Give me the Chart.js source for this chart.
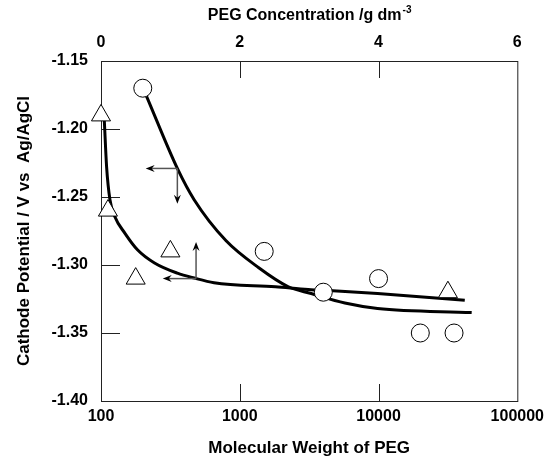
<!DOCTYPE html>
<html>
<head>
<meta charset="utf-8">
<script src="https://cdn.jsdelivr.net/npm/chart.js@4.4.1/dist/chart.umd.min.js"></script>
<style>
  html, body { margin: 0; padding: 0; background: #fff; }
</style>
</head>
<body>
<canvas id="peg-chart" width="550" height="459"></canvas>
<script>
/**
 * Cathode potential vs PEG molecular weight / concentration
 */

// circles: against molecular weight (bottom axis)
let mwPoints = [200, 1500, 4000, 10000, 20000, 35000];
let mwPotential = [-1.17, -1.29, -1.32, -1.31, -1.35, -1.35];

// triangles: against concentration (top axis)
let concPoints = [0, 0.1, 0.5, 1.0, 5.0];
let concPotential = [-1.19, -1.26, -1.31, -1.29, -1.32];

// fitted curves
let mwCurveX = [213, 355, 469, 794, 1370, 2240, 3270, 5720, 9840, 46900];
let mwCurveY = [-1.176, -1.229, -1.252, -1.282, -1.302, -1.316, -1.321, -1.328, -1.332, -1.335];
let concCurveX = [0.047, 0.081, 0.129, 0.2, 0.343, 0.529, 0.771, 1.1, 1.343, 1.629, 2.514, 2.986, 3.34, 3.986, 5.243];
let concCurveY = [-1.193, -1.228, -1.252, -1.2645, -1.2765, -1.289, -1.2985, -1.306, -1.3096, -1.313, -1.316, -1.318, -1.319, -1.321, -1.326];

// axis ticks
let mwTicks = [100, 1000, 10000, 100000];
let concTicks = [0, 2, 4, 6];
let potentialTicks = [-1.40, -1.35, -1.30, -1.25, -1.20, -1.15];

// arrows telling which axis each curve belongs to: [axis, x0, y0, x1, y1]
let arrowList = [
    ['x', 355, -1.229, 210, -1.229],
    ['x', 355, -1.229, 355, -1.255],
    ['x2', 1.37, -1.31, 0.89, -1.31],
    ['x2', 1.37, -1.31, 1.37, -1.283],
];

const zip = (xs, ys) => xs.map((x, i) => ({ x: x, y: ys[i] }));
const font = { family: "'Liberation Sans', Arial, sans-serif", size: 16, weight: 'bold' };
const titleFont = { family: "'Liberation Sans', Arial, sans-serif", size: 17, weight: 'bold' };

// frame and inward tick marks
const framePlugin = {
    id: 'frame',
    beforeDatasetsDraw(chart) {
        const { ctx, chartArea: a, scales } = chart;
        ctx.save();
        ctx.strokeStyle = '#222';
        ctx.lineWidth = 1;
        ctx.strokeRect(a.left + 0.5, a.top + 0.5, a.right - a.left, a.bottom - a.top);
        ctx.beginPath();
        mwTicks.slice(1, -1).forEach(v => {
            let px = Math.round(scales.x.getPixelForValue(v)) + 0.5;
            ctx.moveTo(px, a.bottom); ctx.lineTo(px, a.bottom - 17);
        });
        concTicks.slice(1, -1).forEach(v => {
            let px = Math.round(scales.x2.getPixelForValue(v)) + 0.5;
            ctx.moveTo(px, a.top); ctx.lineTo(px, a.top + 17);
        });
        potentialTicks.slice(1, -1).forEach(v => {
            let py = Math.round(scales.y.getPixelForValue(v)) + 0.5;
            ctx.moveTo(a.left, py); ctx.lineTo(a.left + 19, py);
        });
        ctx.stroke();
        ctx.restore();
    },
    afterDraw(chart) {
        // top title with superscript
        const { ctx, chartArea: a } = chart;
        ctx.save();
        ctx.fillStyle = '#000';
        ctx.textBaseline = 'alphabetic';
        let main = 'PEG Concentration /g dm';
        let sup = '-3';
        ctx.font = "bold 16px 'Liberation Sans', Arial, sans-serif";
        let w1 = ctx.measureText(main).width;
        ctx.font = "bold 10px 'Liberation Sans', Arial, sans-serif";
        let w2 = ctx.measureText(sup).width;
        let x0 = (a.left + a.right) / 2 - (w1 + w2) / 2;
        ctx.font = "bold 16px 'Liberation Sans', Arial, sans-serif";
        ctx.fillText(main, x0, 20);
        ctx.font = "bold 10px 'Liberation Sans', Arial, sans-serif";
        ctx.fillText(sup, x0 + w1 + 1, 13);
        ctx.restore();
    }
};

const arrowPlugin = {
    id: 'arrows',
    afterDatasetsDraw(chart) {
        const { ctx, scales } = chart;
        ctx.save();
        arrowList.forEach(([axis, x0, y0, x1, y1]) => {
            let sx = scales[axis];
            let p0 = { x: sx.getPixelForValue(x0), y: scales.y.getPixelForValue(y0) };
            let p1 = { x: sx.getPixelForValue(x1), y: scales.y.getPixelForValue(y1) };
            let ang = Math.atan2(p1.y - p0.y, p1.x - p0.x);
            ctx.strokeStyle = '#555';
            ctx.lineWidth = 1.5;
            ctx.beginPath();
            ctx.moveTo(p0.x, p0.y);
            ctx.lineTo(p1.x - Math.cos(ang) * 4, p1.y - Math.sin(ang) * 4);
            ctx.stroke();
            ctx.fillStyle = '#000';
            ctx.beginPath();
            ctx.moveTo(p1.x, p1.y);
            ctx.lineTo(p1.x - Math.cos(ang) * 9 - Math.sin(ang) * 3.5, p1.y - Math.sin(ang) * 9 + Math.cos(ang) * 3.5);
            ctx.lineTo(p1.x - Math.cos(ang) * 6, p1.y - Math.sin(ang) * 6);
            ctx.lineTo(p1.x - Math.cos(ang) * 9 + Math.sin(ang) * 3.5, p1.y - Math.sin(ang) * 9 - Math.cos(ang) * 3.5);
            ctx.closePath();
            ctx.fill();
        });
        ctx.restore();
    }
};

let pegChart = new Chart(document.getElementById('peg-chart').getContext('2d'), {
    type: 'scatter',
    data: {
        datasets: [{
            label: 'MW',
            data: zip(mwPoints, mwPotential),
            xAxisID: 'x',
            pointStyle: 'circle',
            pointRadius: 9,
            pointBackgroundColor: '#fff',
            pointBorderColor: '#000',
            pointBorderWidth: 1,
            clip: false,
            order: 0,
        }, {
            label: 'Concentration',
            data: zip(concPoints, concPotential),
            xAxisID: 'x2',
            pointStyle: 'triangle',
            pointRadius: 11,
            pointBackgroundColor: '#fff',
            pointBorderColor: '#000',
            pointBorderWidth: 1,
            clip: false,
            order: 0,
        }, {
            label: 'MW fit',
            data: zip(mwCurveX, mwCurveY),
            xAxisID: 'x',
            showLine: true,
            borderColor: '#000',
            borderWidth: 3,
            pointRadius: 0,
            cubicInterpolationMode: 'monotone',
            order: 1,
        }, {
            label: 'Concentration fit',
            data: zip(concCurveX, concCurveY),
            xAxisID: 'x2',
            showLine: true,
            borderColor: '#000',
            borderWidth: 3,
            pointRadius: 0,
            cubicInterpolationMode: 'monotone',
            order: 1,
        }]
    },
    options: {
        responsive: false,
        animation: false,
        layout: {
            padding: { left: 0, right: 29, top: 0, bottom: 0 }
        },
        plugins: {
            legend: { display: false },
            tooltip: { enabled: false }
        },
        scales: {
            x: {
                type: 'logarithmic',
                position: 'bottom',
                min: 100,
                max: 100000,
                afterBuildTicks: s => { s.ticks = mwTicks.map(v => ({ value: v })); },
                afterFit: s => { s.height = 58; },
                grid: { display: false, drawTicks: false },
                border: { display: false },
                ticks: {
                    font: font,
                    color: '#000',
                    padding: 6,
                    maxRotation: 0,
                    autoSkip: false,
                    callback: v => String(v)
                },
                title: {
                    display: true,
                    text: 'Molecular Weight of PEG',
                    font: titleFont,
                    color: '#000',
                    padding: { top: 0, bottom: 0 }
                }
            },
            x2: {
                type: 'linear',
                position: 'top',
                min: 0,
                max: 6,
                afterBuildTicks: s => { s.ticks = concTicks.map(v => ({ value: v })); },
                afterFit: s => { s.height = 61; },
                grid: { display: false, drawTicks: false },
                border: { display: false },
                ticks: { font: font, color: '#000', padding: 9, maxRotation: 0 }
            },
            y: {
                position: 'left',
                min: -1.40,
                max: -1.15,
                afterBuildTicks: s => { s.ticks = potentialTicks.map(v => ({ value: v })); },
                afterFit: s => { s.width = 101; },
                grid: { display: false, drawTicks: false },
                border: { display: false },
                ticks: {
                    font: font,
                    color: '#000',
                    padding: 13,
                    callback: v => v.toFixed(2)
                },
                title: {
                    display: true,
                    text: 'Cathode Potential / V vs  Ag/AgCl',
                    font: titleFont,
                    color: '#000',
                    padding: { top: 14, bottom: 0 }
                }
            }
        }
    },
    plugins: [framePlugin, arrowPlugin]
});
</script>
</body>
</html>
